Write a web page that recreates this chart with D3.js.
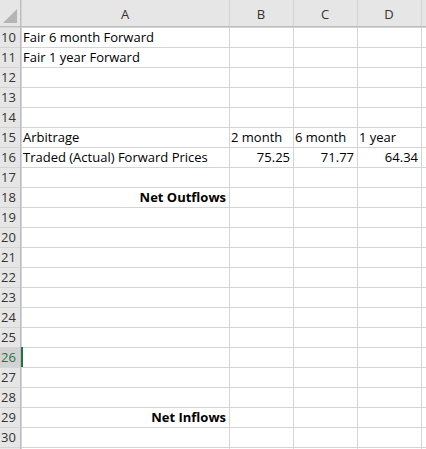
<!DOCTYPE html>
<html><head><meta charset="utf-8">
<script src="https://cdn.jsdelivr.net/npm/d3@7"></script>
<style>body{margin:0;background:#fff}text{font-family:"Open Sans",sans-serif;font-size:13px}</style>
</head><body><svg id="s" width="426" height="449"></svg>
<script>
var columns = ["A", "B", "C", "D"];
var colEdges = [21, 229, 293, 357, 421];
var rowNums = [10,11,12,13,14,15,16,17,18,19,20,21,22,23,24,25,26,27,28,29,30];
var cellsText = [
    {row: 10, col: 0, text: "Fair 6 month Forward", align: "left"},
    {row: 11, col: 0, text: "Fair 1 year Forward", align: "left"},
    {row: 15, col: 0, text: "Arbitrage", align: "left"},
    {row: 15, col: 1, text: "2 month", align: "left"},
    {row: 15, col: 2, text: "6 month", align: "left"},
    {row: 15, col: 3, text: "1 year", align: "left"},
    {row: 16, col: 0, text: "Traded (Actual) Forward Prices", align: "left"},
    {row: 16, col: 1, text: "75.25", align: "right"},
    {row: 16, col: 2, text: "71.77", align: "right"},
    {row: 16, col: 3, text: "64.34", align: "right"},
    {row: 18, col: 0, text: "Net Outflows", align: "right", bold: true},
    {row: 29, col: 0, text: "Net Inflows", align: "right", bold: true}
];
var activeRow = 26;

var svg = d3.select('#s');
var headH = 27, rowH = 20;
var y = d3.scaleLinear().domain([rowNums[0], rowNums[0] + 1]).range([headH, headH + rowH]);

// header backgrounds
svg.append('rect').attr('x', 0).attr('y', 0).attr('width', 426).attr('height', headH).attr('fill', '#e6e6e6');
svg.append('rect').attr('x', 0).attr('y', 0).attr('width', 21).attr('height', 449).attr('fill', '#e6e6e6');
svg.append('path').attr('d', 'M17,9 L17,23 L3,23 Z').attr('fill', '#b4b4b4');

// row header highlight
svg.append('rect').attr('x', 0).attr('y', y(activeRow)).attr('width', 21).attr('height', rowH).attr('fill', '#d2d2d2');

// grid lines
svg.selectAll('line.h').data(rowNums.concat([rowNums[rowNums.length - 1] + 1])).enter().append('line')
    .attr('x1', 0).attr('x2', 426)
    .attr('y1', function (d) { return y(d) + 0.5; }).attr('y2', function (d) { return y(d) + 0.5; })
    .attr('stroke', '#d4d4d4');
svg.selectAll('line.v').data(colEdges.concat([426])).enter().append('line')
    .attr('x1', function (d) { return d + 0.5; }).attr('x2', function (d) { return d + 0.5; })
    .attr('y1', 0).attr('y2', 449)
    .attr('stroke', '#d4d4d4');
svg.append('line').attr('x1', 0).attr('x2', 426).attr('y1', headH - 0.5).attr('y2', headH - 0.5).attr('stroke', '#bdbdbd');
svg.append('line').attr('x1', 20.5).attr('x2', 20.5).attr('y1', 0).attr('y2', 449).attr('stroke', '#bdbdbd');

// active cell marker
svg.append('line').attr('x1', 22).attr('x2', 22).attr('y1', y(activeRow)).attr('y2', y(activeRow) + rowH)
    .attr('stroke', '#217346').attr('stroke-width', 2);

// column headers
svg.selectAll('text.col').data(columns).enter().append('text')
    .attr('x', function (d, i) { return (colEdges[i] + colEdges[i + 1]) / 2; })
    .attr('y', 19).attr('text-anchor', 'middle').attr('fill', '#333').attr('font-size', '12px')
    .text(function (d) { return d; });

// row numbers
svg.selectAll('text.row').data(rowNums).enter().append('text')
    .attr('x', 1).attr('y', function (d) { return y(d) + 15; })
    .attr('fill', function (d) { return d === activeRow ? '#217346' : '#333'; })
    .text(function (d) { return d; });

// cell text
svg.selectAll('text.cell').data(cellsText).enter().append('text')
    .attr('x', function (d) { return d.align === 'right' ? colEdges[d.col + 1] - 3 : colEdges[d.col] + 2; })
    .attr('y', function (d) { return y(d.row) + 15; })
    .attr('text-anchor', function (d) { return d.align === 'right' ? 'end' : 'start'; })
    .attr('font-weight', function (d) { return d.bold ? 'bold' : 'normal'; })
    .attr('fill', '#000')
    .text(function (d) { return d.text; });
</script></body></html>
